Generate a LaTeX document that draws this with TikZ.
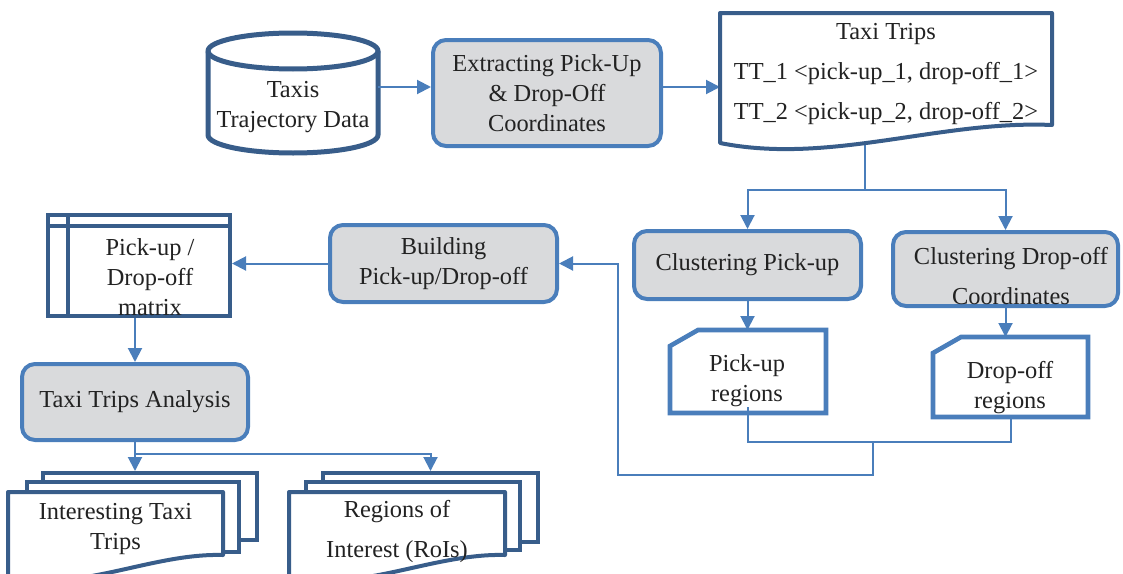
\documentclass[tikz,border=0pt]{standalone}
\usepackage{fontspec}
\setmainfont{Liberation Serif}
\usepackage{tikz}
\usetikzlibrary{arrows.meta}
\usepackage{xcolor}

\definecolor{boxblue}{HTML}{4A7EBB}
\definecolor{docblue}{HTML}{385D8A}
\definecolor{boxgray}{HTML}{D9DADC}
\definecolor{txtgray}{HTML}{222222}

\tikzset{
  proc/.style={draw=boxblue, fill=boxgray, line width=2pt, rounded corners=6.5pt, align=center, text=txtgray},
  docbox/.style={draw=docblue, fill=white, line width=2pt},
  blank/.style={draw=none, inner sep=0pt, outer sep=0pt},
  txt/.style={align=center, text=txtgray},
  docline/.style={draw=docblue, fill=white, line width=2pt, line join=round},
  docedge/.style={draw=docblue, line width=2pt},
  cardline/.style={draw=boxblue, fill=white, line width=2.3pt},
  conn/.style={draw=boxblue, line width=1pt},
  arr/.style={draw=boxblue, line width=1pt, -{Triangle[length=7pt,width=7pt]}},
}

\begin{document}
\begin{tikzpicture}[x=0.5pt, y=-0.5pt, every node/.style={font=\fontsize{12.2}{15}\selectfont}]
\useasboundingbox (0,0) rectangle (1123,573);
\clip (0,0) rectangle (1123,573);

% top row
\node[blank, minimum width=85pt, minimum height=60pt](data) at (293,93){};
\draw[docline, line width=2.5pt] ([yshift=-9pt]data.north west) -- ([yshift=9pt]data.south west)
  arc[start angle=180, end angle=360, x radius=42.5pt, y radius=9pt]
  -- ([yshift=-9pt]data.north east)
  arc[start angle=0, end angle=180, x radius=42.5pt, y radius=9pt] -- cycle;
\draw[docedge, line width=2.5pt] ([yshift=-9pt]data.north west)
  arc[start angle=180, end angle=360, x radius=42.5pt, y radius=9pt];
\node[txt](datatext) at (293,107){Taxis\\Trajectory Data};
\node[proc, minimum width=114pt, minimum height=53pt](extract) at (547,93){Extracting Pick-Up\\\& Drop-Off\\Coordinates};
\node[blank, minimum width=166pt, minimum height=65pt](trips) at (886,78){};

% middle row
\node[proc, minimum width=113.5pt, minimum height=34pt](clpick) at (747.5,265){Clustering Pick-up};
\node[proc, minimum width=112.5pt, minimum height=37pt](cldrop) at (1005.5,269){};
\node[txt](cldroptext) at (1011,276){Clustering Drop-off\\[5pt]Coordinates};
\node[proc, minimum width=113.5pt, minimum height=38.5pt](build) at (443.5,263.5){Building\\Pick-up/Drop-off};
\node[docbox, minimum width=91pt, minimum height=50.5pt](mat) at (139,265.5){};
\draw[docedge] ([yshift=-6.5pt]mat.north west) -- ([yshift=-6.5pt]mat.north east);
\draw[docedge] ([xshift=11pt]mat.north west) -- ([xshift=11pt]mat.south west);
\node[txt](mattext) at (150,277){Pick-up /\\Drop-off\\matrix};

\node[blank, minimum width=78pt, minimum height=41.5pt](pickreg) at (748,371.5){};
\draw[cardline] ([yshift=-8pt]pickreg.north west) -- ([xshift=14pt]pickreg.north west) -- (pickreg.north east) -- (pickreg.south east) -- (pickreg.south west) -- cycle;
\node[txt](pickregtext) at (747,381){Pick-up\\regions};
\node[blank, minimum width=77.5pt, minimum height=40pt](dropreg) at (1010.5,377){};
\draw[cardline] ([yshift=-8pt]dropreg.north west) -- ([xshift=14pt]dropreg.north west) -- (dropreg.north east) -- (dropreg.south east) -- (dropreg.south west) -- cycle;
\node[txt](dropregtext) at (1010,388){Drop-off\\regions};

% bottom row
\node[proc, minimum width=113pt, minimum height=38pt](analysis) at (135,402){Taxi Trips Analysis};
\node[docbox, minimum width=107pt, minimum height=33.5pt](ittback) at (150,506.5){};
\node[docbox, minimum width=106pt, minimum height=35pt](ittmid) at (133,517){};
\node[blank, minimum width=107.5pt, minimum height=36.5pt](itt) at (115.5,528.5){};
\node[docbox, minimum width=107.5pt, minimum height=34.5pt](roiback) at (430.5,507.5){};
\node[docbox, minimum width=107pt, minimum height=34pt](roimid) at (413,516){};
\node[blank, minimum width=108pt, minimum height=36.5pt](roi) at (397,528.5){};

% connectors
\draw[arr] ([yshift=3pt]data.east) -- ([yshift=3pt]extract.west);
\draw[arr] ([yshift=3pt]extract.east) -- ([yshift=3pt]extract.east -| trips.west);
\coordinate (fork1) at (865,190);
\draw[conn] (fork1 |- trips.south) -- (fork1);
\draw[arr] (fork1) -| (clpick.north);
\draw[arr] (fork1) -| (cldrop.north);
\draw[arr] (clpick.south) -- (clpick.south |- pickreg.north);
\draw[arr] (cldrop.south) -- (cldrop.south |- dropreg.north);
\coordinate (join) at (873,442);
\coordinate (back) at (618,475);
\draw[conn] ([yshift=3pt]pickreg.south) |- (dropreg.south |- join) -- (dropreg.south);
\draw[arr] (join) |- (back) |- (build.east);
\draw[arr] (build.west) -- (build.west -| mat.east);
\draw[arr] (analysis.north |- mat.south) -- (analysis.north);
\coordinate (fork2) at (135,454);
\draw[conn] (analysis.south) -- (fork2);
\draw[arr] (fork2) -- (fork2 |- ittback.north);
\draw[arr] (fork2) -| (roiback.north);

% document outlines
\draw[docline] (trips.south west) -- (trips.north west) -- (trips.north east) -- ([yshift=9pt]trips.south east)
  .. controls +(-56pt,2.5pt) and +(55pt,-11pt) .. (trips.south west) -- cycle;
\node[txt](tripstext) at (886,74){Taxi Trips\\[5pt]TT\_1 <pick-up\_1, drop-off\_1>\\[5pt]TT\_2 <pick-up\_2, drop-off\_2>};
\draw[docline] (itt.south west) -- (itt.north west) -- (itt.north east) -- ([yshift=5pt]itt.south east)
  .. controls +(-36pt,1pt) and +(36pt,-8pt) .. ([yshift=-6pt]itt.south west) -- cycle;
\node[txt](itttext) at (115.5,529){Interesting Taxi\\Trips};
\draw[docline] (roi.south west) -- (roi.north west) -- (roi.north east) -- ([yshift=5pt]roi.south east)
  .. controls +(-36pt,1pt) and +(36pt,-8pt) .. ([yshift=-6pt]roi.south west) -- cycle;
\node[txt](roitext) at (397,531){Regions of\\[5pt]Interest (RoIs)};
\end{tikzpicture}
\end{document}
